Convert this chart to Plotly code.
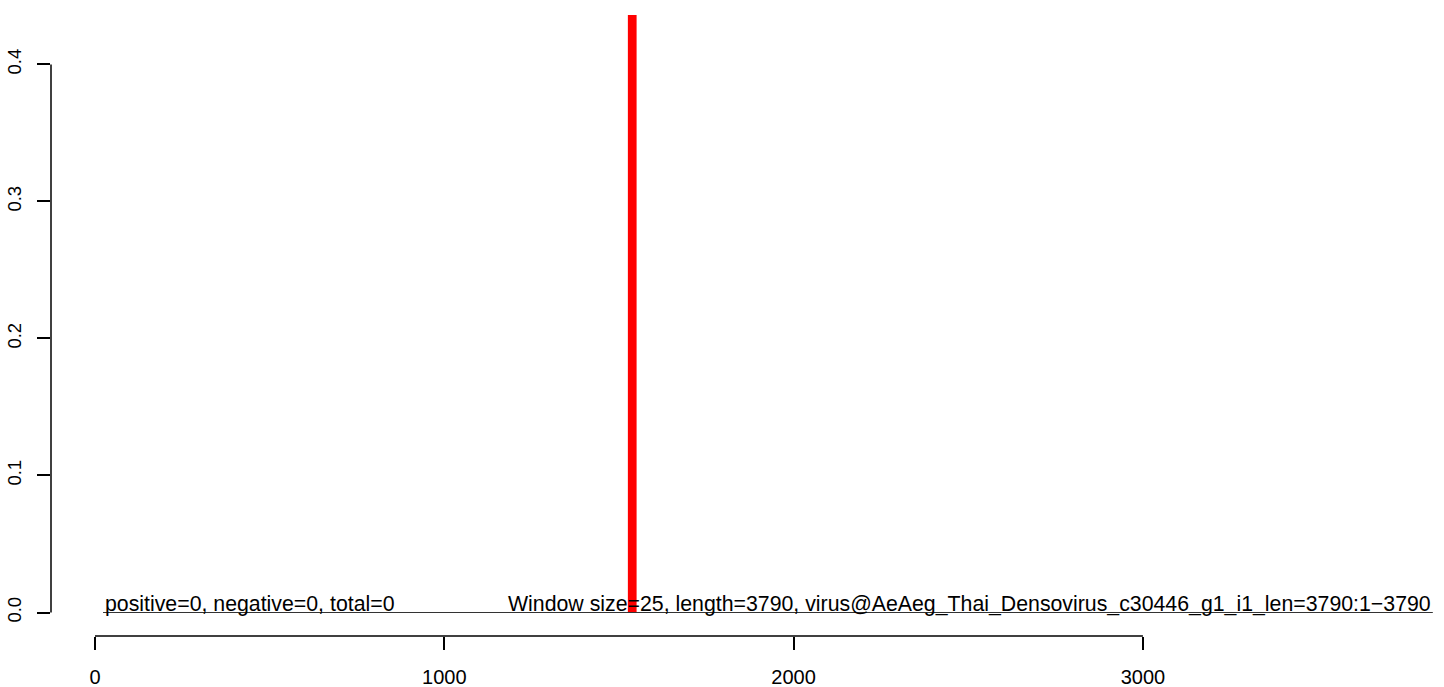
import plotly.graph_objects as go

# Data
bar_x = [1538]
bar_y = [0.5]
bar_width = [25]
baseline_x = [23, 3830]
baseline_y = [0, 0]
x_ticks = [0, 1000, 2000, 3000]
y_ticks = [0.0, 0.1, 0.2, 0.3, 0.4]
y_tick_labels = ["0.0", "0.1", "0.2", "0.3", "0.4"]
left_text = "positive=0, negative=0, total=0"
right_text = "Window size=25, length=3790, virus@AeAeg_Thai_Densovirus_c30446_g1_i1_len=3790:1\u22123790"

FONT = "Liberation Sans, Arial, Helvetica, sans-serif"

fig = go.Figure()
fig.add_trace(go.Scatter(x=baseline_x, y=baseline_y, mode="lines",
                         line=dict(color="#333333", width=1), hoverinfo="skip"))
fig.add_trace(go.Bar(x=bar_x, y=bar_y, width=bar_width, marker=dict(color="#FF0000", line=dict(width=0))))

# axis lines only over the tick range (R style)
fig.add_shape(type="line", xref="x", yref="paper", x0=x_ticks[0], x1=x_ticks[-1], y0=0, y1=0,
              line=dict(color="black", width=1.5))
fig.add_shape(type="line", xref="paper", yref="y", x0=0, x1=0, y0=y_ticks[0], y1=y_ticks[-1],
              line=dict(color="black", width=1.5))

fig.add_annotation(x=baseline_x[0], y=0, xref="x", yref="y", text=left_text, showarrow=False,
                   xanchor="left", yanchor="bottom", yshift=-5,
                   font=dict(family=FONT, size=21.3, color="black"))
fig.add_annotation(x=baseline_x[1], y=0, xref="x", yref="y", text=right_text, showarrow=False,
                   xanchor="right", yanchor="bottom", yshift=-5,
                   font=dict(family=FONT, size=21.3, color="black"))

fig.update_layout(
    width=1444, height=687,
    margin=dict(l=51, r=0, t=15, b=51, autoexpand=False),
    plot_bgcolor="white", paper_bgcolor="white",
    showlegend=False,
    xaxis=dict(range=[-126, 3862], tickvals=x_ticks, ticktext=[str(v) for v in x_ticks],
               showgrid=False, zeroline=False, showline=False, automargin=False,
               ticks="outside", ticklen=13, tickwidth=1.5, tickcolor="black",
               ticklabelstandoff=10,
               tickfont=dict(family=FONT, size=20, color="black")),
    yaxis=dict(range=[-0.01715, 0.4361], tickvals=y_ticks, ticktext=y_tick_labels,
               showgrid=False, zeroline=False, showline=False, automargin=False,
               ticks="outside", ticklen=13, tickwidth=1.5, tickcolor="black",
               tickangle=-90, ticklabelstandoff=9,
               tickfont=dict(family=FONT, size=18.5, color="black")),
)

fig.write_html("out.html", config={"displayModeBar": False},
               post_script="document.body.style.margin='0';document.body.style.overflow='hidden';")
